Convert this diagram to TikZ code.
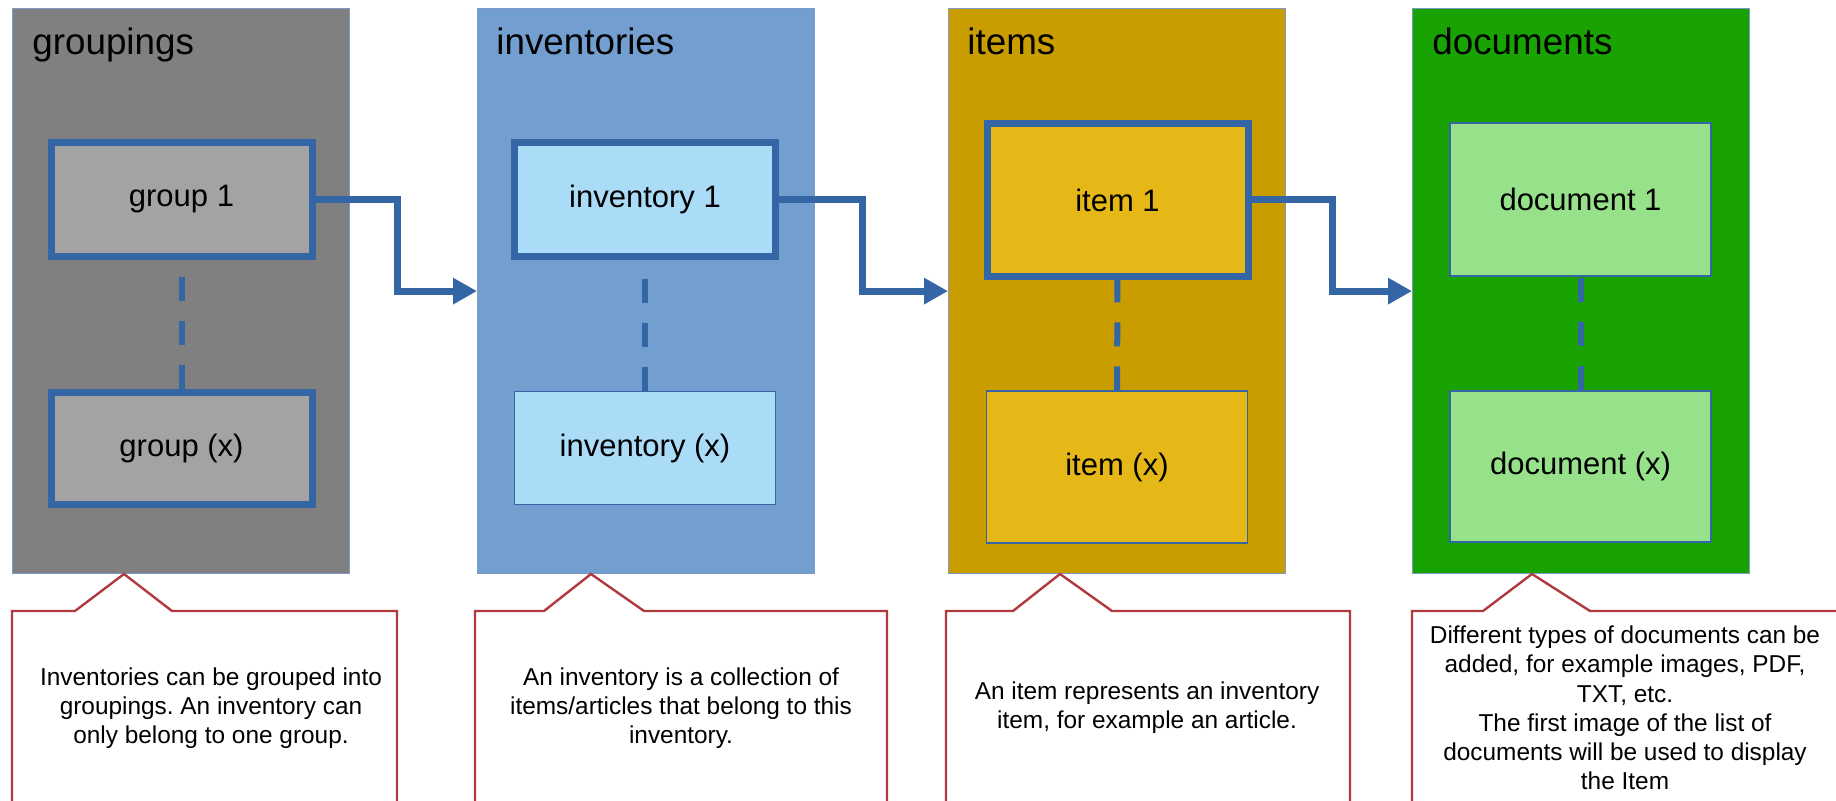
\documentclass[tikz,border=0pt]{standalone}
\usepackage{fontspec}
\setmainfont{Liberation Sans}
\usetikzlibrary{positioning,arrows.meta}
\frenchspacing
\definecolor{linkblue}{HTML}{3465A4}
\definecolor{grpgray}{HTML}{808080}
\definecolor{grpbox}{HTML}{A3A3A3}
\definecolor{invblue}{HTML}{729FCF}
\definecolor{invbox}{HTML}{AADCF7}
\definecolor{itmgold}{HTML}{C99C00}
\definecolor{itmbox}{HTML}{E6B817}
\definecolor{docgreen}{HTML}{18A303}
\definecolor{docbox}{HTML}{96E18A}
\definecolor{notered}{HTML}{B03A3D}
\tikzset{%
  panel/.style={draw=linkblue!65,line width=0.6pt,anchor=north west,minimum width=168.5pt,minimum height=282.5pt,inner sep=0},
  title/.style={anchor=base west,inner sep=0,font=\fontsize{18.4}{22}\selectfont},
  entry/.style={draw=linkblue,line width=0.6pt,inner sep=0,minimum width=130.5pt,font=\fontsize{15.5}{18}\selectfont},
  active/.style={line width=3.5pt},
  link/.style={draw=linkblue,line width=3.5pt,-{Triangle[length=12pt,width=12.5pt]}},
  dashlink/.style={draw=linkblue,line width=3pt,dash pattern=on 12pt off 10pt},
  note/.style={draw=notered,line width=1.2pt},
  notetext/.style={align=center,inner sep=0,font=\fontsize{12.2}{14.65}\selectfont}
}
\begin{document}
\begin{tikzpicture}[x=0.5pt,y=-0.5pt]
  \useasboundingbox (0,0) rectangle (1836,801);
  \clip (0,0) rectangle (1836,801);
  \path
    (12,8) node[panel,fill=grpgray] (p_grp) {}
    (477,8) node[panel,fill=invblue] (p_inv) {}
    (948,8) node[panel,fill=itmgold] (p_itm) {}
    (1412,8) node[panel,fill=docgreen] (p_doc) {};
  \path
    (32,55) node[title] (t_grp) {groupings}
    (496,55) node[title] (t_inv) {inventories}
    (967,55) node[title] (t_itm) {items}
    (1432,55) node[title] (t_doc) {documents};
  \path
    (181.5,199.5) node[entry,active,fill=grpbox,minimum height=57pt] (grp_1) {group 1}
    (181.5,448.5) node[entry,active,fill=grpbox,minimum height=56pt] (grp_x) {group (x)}
    (645,199.5) node[entry,active,fill=invbox,minimum height=57pt] (inv_1) {inventory 1}
    (645,448) node[entry,fill=invbox,minimum height=56.5pt] (inv_x) {inventory (x)}
    (1117.5,200) node[entry,active,fill=itmbox,minimum height=76.5pt] (itm_1) {item 1}
    (1117,467) node[entry,fill=itmbox,minimum height=76pt] (itm_x) {item (x)}
    (1580.5,199.5) node[entry,fill=docbox,minimum height=76.5pt] (doc_1) {document 1}
    (1580.5,466.5) node[entry,fill=docbox,minimum height=75.5pt] (doc_x) {document (x)};
  \draw[dashlink] (grp_x) -- (grp_1);
  \draw[dashlink] (inv_x) -- (inv_1);
  \draw[dashlink] (itm_x) -- (itm_1);
  \draw[dashlink] (doc_x) -- (doc_1);
  \draw[link] (grp_1.east) -- ++(82,0) |- (p_inv.west);
  \draw[link] (inv_1.east) -- ++(83,0) |- (p_itm.west);
  \draw[link] (itm_1.east) -- ++(81,0) |- (p_doc.west);
  \draw[note] (12,812) -- (12,611) -- (75,611) -- (124,574) -- (172,611) -- (397,611) -- (397,812);
  \draw[note] (475,812) -- (475,611) -- (544,611) -- (591,574) -- (644,611) -- (887,611) -- (887,812);
  \draw[note] (946,812) -- (946,611) -- (1013,611) -- (1060,574) -- (1112,611) -- (1350,611) -- (1350,812);
  \draw[note] (1412,812) -- (1412,611) -- (1483,611) -- (1532,574) -- (1590,611) -- (1850,611);
  \path
    (211,708) node[notetext] (n_grp) {Inventories can be grouped into\\groupings. An inventory can\\only belong to one group.}
    (681,708) node[notetext] (n_inv) {An inventory is a collection of\\items/articles that belong to this\\inventory.}
    (1147,708) node[notetext] (n_itm) {An item represents an inventory\\item, for example an article.}
    (1625,708) node[notetext] (n_doc) {Different types of documents can be\\added, for example images, PDF,\\TXT, etc.\\The first image of the list of\\documents will be used to display\\the Item};
\end{tikzpicture}
\end{document}
